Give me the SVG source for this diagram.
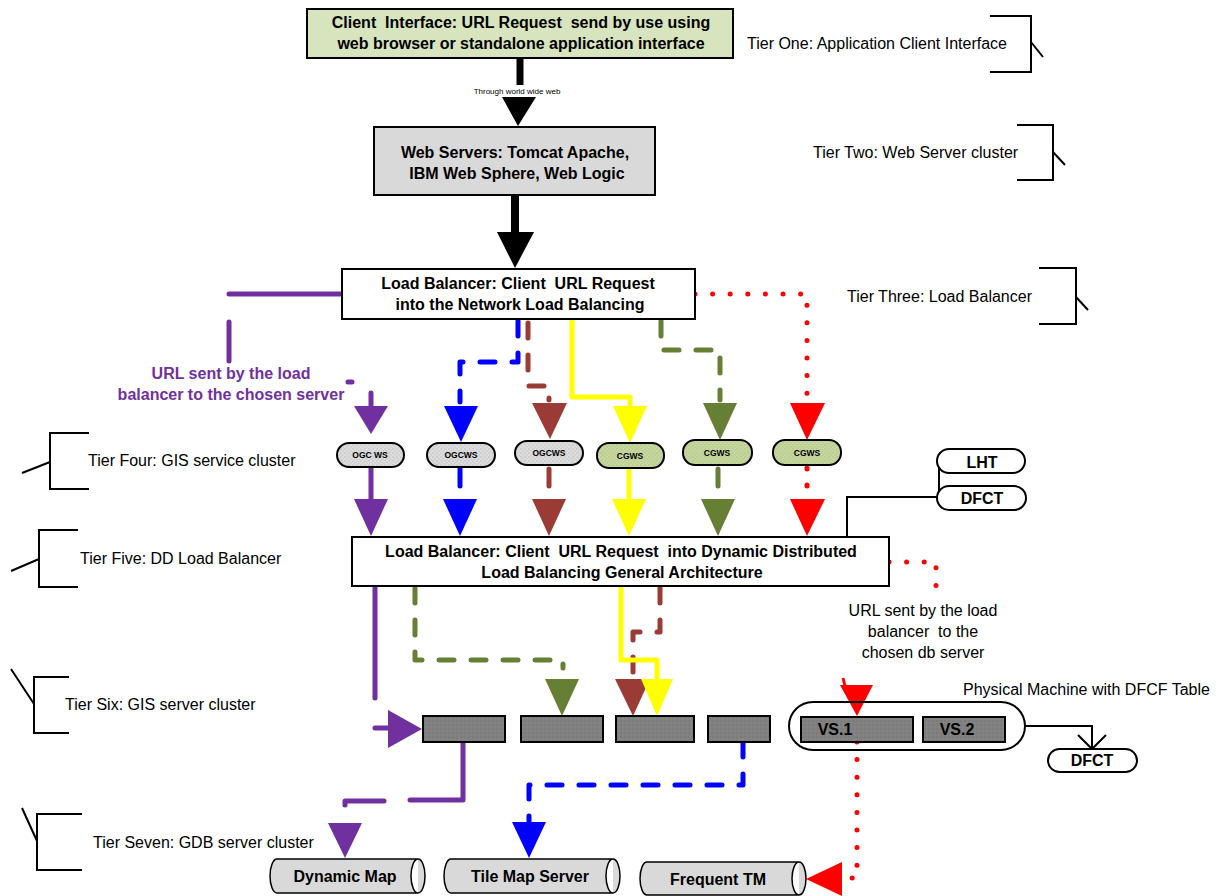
<svg xmlns="http://www.w3.org/2000/svg" width="1222" height="896" viewBox="0 0 1222 896">
<defs>
<pattern id="dotG" width="4" height="4" patternUnits="userSpaceOnUse"><rect width="4" height="4" fill="#dcdcdc"/><circle cx="1" cy="1" r="0.7" fill="#b8b8b8"/><circle cx="3" cy="3" r="0.7" fill="#c4c4c4"/></pattern>
<pattern id="dotN" width="4" height="4" patternUnits="userSpaceOnUse"><rect width="4" height="4" fill="#c6d79e"/><circle cx="1" cy="1" r="0.7" fill="#aabb84"/><circle cx="3" cy="3" r="0.7" fill="#b4c58c"/></pattern>
<pattern id="srv" width="4" height="4" patternUnits="userSpaceOnUse"><rect width="4" height="4" fill="#808080"/><circle cx="1" cy="1" r="0.7" fill="#747474"/><circle cx="3" cy="3" r="0.7" fill="#8a8a8a"/></pattern>
</defs>
<style>
text{font-family:"Liberation Sans",Arial,sans-serif;fill:#000;white-space:pre}
.b16{font-size:16px;font-weight:bold;text-anchor:middle}
.tier{font-size:16px}
.pt{font-size:8.5px;font-weight:bold;text-anchor:middle}
.box{stroke:#000;stroke-width:2}
.brk{fill:none;stroke:#000;stroke-width:2}
.c{fill:none;stroke-width:5;stroke-linecap:round;stroke-linejoin:round}
.pu{stroke:#7030a0}.bl{stroke:#0000ff}.br{stroke:#9b3b35}.ye{stroke:#ffff00}.ol{stroke:#677e35}.rd{stroke:#ff0000}
.dash{stroke-dasharray:15 17}
.dot{stroke-dasharray:0 17.6}
.fpu{fill:#7030a0}.fbl{fill:#0000ff}.fbr{fill:#9b3b35}.fye{fill:#ffff00}.fol{fill:#677e35}.frd{fill:#ff0000}
.pill{stroke:#000;stroke-width:2}
.cyl{fill:#d9d9d9;stroke:#000;stroke-width:1.5}
</style>
<rect width="1222" height="896" fill="#fff"/>

<!-- tier labels -->
<g id="tier-labels">
<g id="tier1"><text class="tier" x="747" y="49">Tier One: Application Client Interface</text><path class="brk" d="M990,16 H1031 V72 H990 M1031,42 L1043,57"/></g>
<g id="tier2"><text class="tier" x="813" y="158">Tier Two: Web Server cluster</text><path class="brk" d="M1017,125 H1053 V180 H1017 M1053,152 L1065,165"/></g>
<g id="tier3"><text class="tier" x="847" y="302">Tier Three: Load Balancer</text><path class="brk" d="M1039,268 H1076 V324 H1039 M1076,297 L1088,310"/></g>
<g id="tier4"><text class="tier" x="88" y="466">Tier Four: GIS service cluster</text><path class="brk" d="M89,433 H50 V489 H89 M50,462 L22,473"/></g>
<g id="tier5"><text class="tier" x="80" y="564">Tier Five: DD Load Balancer</text><path class="brk" d="M78,530 H39 V587 H78 M39,559 L11,571"/></g>
<g id="tier6"><text class="tier" x="65" y="710">Tier Six: GIS server cluster</text><path class="brk" d="M69,677 H34 V733 H69 M34,704 L11,669"/></g>
<g id="tier7"><text class="tier" x="93" y="848">Tier Seven: GDB server cluster</text><path class="brk" d="M82,814 H37 V870 H82 M37,841 L22,808"/></g>
</g>

<!-- connectors -->
<g id="connectors">
<!-- black -->
<line x1="520" y1="58" x2="520" y2="85" stroke="#000" stroke-width="7"/>
<polygon points="502,97 536,97 518,126" fill="#000"/>
<text x="517" y="94" style="font-size:8px;text-anchor:middle">Through world wide web</text>
<line x1="515" y1="195" x2="515" y2="236" stroke="#000" stroke-width="8"/>
<polygon points="497,232 534,232 515,268" fill="#000"/>

<!-- purple tier3->4 -->
<path class="c pu" d="M229,294 H341 M229,322 V361 M348,382 H352 M371,393 V408"/>
<polygon class="fpu" points="354,406 388,406 371,434"/>
<!-- blue -->
<path class="c bl dash" d="M518,321 V362 H460 V402"/>
<polygon class="fbl" points="444,406 478,406 461,442"/>
<!-- brown -->
<path class="c br dash" d="M528,323 V386 H549 V400"/>
<polygon class="fbr" points="532,403 567,403 550,439"/>
<!-- yellow -->
<path class="c ye" d="M572,321 V397 H630 V408"/>
<polygon class="fye" points="613,406 647,406 630,443"/>
<!-- olive -->
<path class="c ol dash" d="M661,321 V350 H720 V400"/>
<polygon class="fol" points="703,403 737,403 720,440"/>
<!-- red -->
<path class="c rd dot" d="M695,294 H807 V400"/>
<polygon class="frd" points="790,403 825,403 807,440"/>

<!-- tier4 -> tier5 -->
<path class="c pu" d="M371,468 V502"/>
<polygon class="fpu" points="354,499 388,499 371,536"/>
<path class="c bl" d="M460,469 V486"/>
<polygon class="fbl" points="443,499 477,499 460,536"/>
<path class="c br" d="M549,469 V486"/>
<polygon class="fbr" points="532,499 566,499 549,536"/>
<path class="c ye" d="M629,468 V502"/>
<polygon class="fye" points="612,499 646,499 629,536"/>
<path class="c ol" d="M718,469 V486"/>
<polygon class="fol" points="701,499 735,499 718,536"/>
<path class="c rd" d="M807,468 V469 M807,485 V486"/>
<polygon class="frd" points="790,499 825,499 807,536"/>

<!-- tier5 -> tier6 -->
<path class="c pu" d="M375,588 V698 M375,728 H388"/>
<polygon class="fpu" points="388,710 388,748 422,729"/>
<path class="c ol dash" d="M415,588 V660 H563 V668"/>
<polygon class="fol" points="545,679 579,679 562,716"/>
<path class="c br dash" d="M660,588 V632 H633 V680"/>
<polygon class="fbr" points="615,679 650,679 633,716"/>
<path class="c ye" d="M621,588 V660 H657 V682"/>
<polygon class="fye" points="641,679 673,679 657,716"/>
<path class="c rd dot" d="M889,562 H936 V586"/>
<line x1="843" y1="678" x2="845" y2="686" stroke="#ff0000" stroke-width="3"/>
<polygon class="frd" points="840,685 873,685 857,716"/>

<!-- tier6 -> tier7 -->
<path class="c pu" d="M463,743 V800 H410 M384,801 H345 V805"/>
<polygon class="fpu" points="328,823 362,823 345,858"/>
<path class="c bl dash" d="M743,742 V785 H529 V822"/>
<polygon class="fbl" points="512,822 546,822 529,858"/>
<path class="c rd dot" d="M857,742 V878 H845"/>
<polygon class="frd" points="842,862 842,896 806,879"/>

<!-- black thin -->
<path class="brk" d="M939,461 V497 M939,497 H847 V537"/>
<path class="brk" d="M1025,726 H1092 V748 M1078,735 L1092,749 L1106,735"/>
</g>

<!-- nodes -->
<g id="client">
<rect class="box" x="307" y="9" width="426" height="49" fill="#d7e4bd"/>
<text class="b16" x="521" y="28">Client  Interface: URL Request  send by use using</text>
<text class="b16" x="521" y="49">web browser or standalone application interface</text>
</g>
<g id="webservers">
<rect class="box" x="374" y="127" width="281" height="68" fill="#d9d9d9"/>
<text class="b16" x="515" y="158">Web Servers: Tomcat Apache,</text>
<text class="b16" x="517" y="179">IBM Web Sphere, Web Logic</text>
</g>
<g id="lb1">
<rect class="box" x="342" y="269" width="353" height="50" fill="#fff"/>
<text class="b16" x="518" y="289">Load Balancer: Client  URL Request</text>
<text class="b16" x="520" y="310">into the Network Load Balancing</text>
</g>
<g id="purple-label">
<text class="b16" x="231" y="379" style="fill:#7030a0">URL sent by the load</text>
<text class="b16" x="231" y="400" style="fill:#7030a0">balancer to the chosen server</text>
</g>

<g id="ws1"><rect class="pill" x="337" y="443" width="67" height="24" rx="12" fill="url(#dotG)"/><text class="pt" x="370" y="458">OGC WS</text></g>
<g id="ws2"><rect class="pill" x="427" y="443" width="68" height="24" rx="12" fill="url(#dotG)"/><text class="pt" x="461" y="458">OGCWS</text></g>
<g id="ws3"><rect class="pill" x="515" y="441" width="68" height="24" rx="12" fill="url(#dotG)"/><text class="pt" x="549" y="456">OGCWS</text></g>
<g id="ws4"><rect class="pill" x="597" y="443" width="67" height="25" rx="12" fill="url(#dotN)"/><text class="pt" x="630" y="459">CGWS</text></g>
<g id="ws5"><rect class="pill" x="683" y="440" width="69" height="25" rx="12" fill="url(#dotN)"/><text class="pt" x="717" y="456">CGWS</text></g>
<g id="ws6"><rect class="pill" x="773" y="440" width="68" height="25" rx="12" fill="url(#dotN)"/><text class="pt" x="807" y="456">CGWS</text></g>

<g id="lht"><rect class="pill" x="937" y="449" width="88" height="24" rx="12" fill="#fff"/><text class="b16" x="982" y="468">LHT</text></g>
<g id="dfct1"><rect class="pill" x="937" y="486" width="89" height="24" rx="12" fill="#fff"/><text class="b16" x="982" y="504">DFCT</text></g>

<g id="lb2">
<rect class="box" x="352" y="537" width="537" height="49" fill="#fff"/>
<text class="b16" x="621" y="557">Load Balancer: Client  URL Request  into Dynamic Distributed</text>
<text class="b16" x="622" y="578">Load Balancing General Architecture</text>
</g>
<g id="db-label">
<text class="tier" x="923" y="616" text-anchor="middle">URL sent by the load</text>
<text class="tier" x="923" y="637" text-anchor="middle">balancer  to the</text>
<text class="tier" x="923" y="658" text-anchor="middle">chosen db server</text>
</g>

<g id="srv1"><rect class="box" x="423" y="716" width="82" height="26" fill="url(#srv)"/></g>
<g id="srv2"><rect class="box" x="521" y="716" width="82" height="26" fill="url(#srv)"/></g>
<g id="srv3"><rect class="box" x="616" y="716" width="78" height="26" fill="url(#srv)"/></g>
<g id="srv4"><rect class="box" x="708" y="716" width="62" height="26" fill="url(#srv)"/></g>

<g id="physical">
<text class="tier" x="963" y="695">Physical Machine with DFCF Table</text>
<rect x="789" y="702" width="236" height="48" rx="24" fill="none" stroke="#000" stroke-width="2"/>
<rect class="box" x="801" y="717" width="112" height="25" fill="url(#srv)"/>
<text class="b16" x="835" y="735">VS.1</text>
<rect class="box" x="923" y="717" width="82" height="25" fill="url(#srv)"/>
<text class="b16" x="957" y="735">VS.2</text>
</g>
<g id="dfct2"><rect class="pill" x="1048" y="749" width="89" height="23" rx="11.5" fill="#fff"/><text class="b16" x="1092" y="766">DFCT</text></g>

<g id="dynmap">
<path class="cyl" d="M277,859 H418 A7,17 0 0 1 418,893 H277 A7,17 0 0 1 277,859 Z M418,859 A7,17 0 0 0 418,893"/>
<text class="b16" x="345" y="882">Dynamic Map</text>
</g>
<g id="tilemap">
<path class="cyl" d="M451,859 H613 A7,17 0 0 1 613,893 H451 A7,17 0 0 1 451,859 Z M613,859 A7,17 0 0 0 613,893"/>
<text class="b16" x="530" y="882">Tile Map Server</text>
</g>
<g id="freqtm">
<path class="cyl" d="M647,862 H799 A7,16.5 0 0 1 799,895 H647 A7,16.5 0 0 1 647,862 Z M799,862 A7,16.5 0 0 0 799,895"/>
<text class="b16" x="718" y="885">Frequent TM</text>
</g>
</svg>
